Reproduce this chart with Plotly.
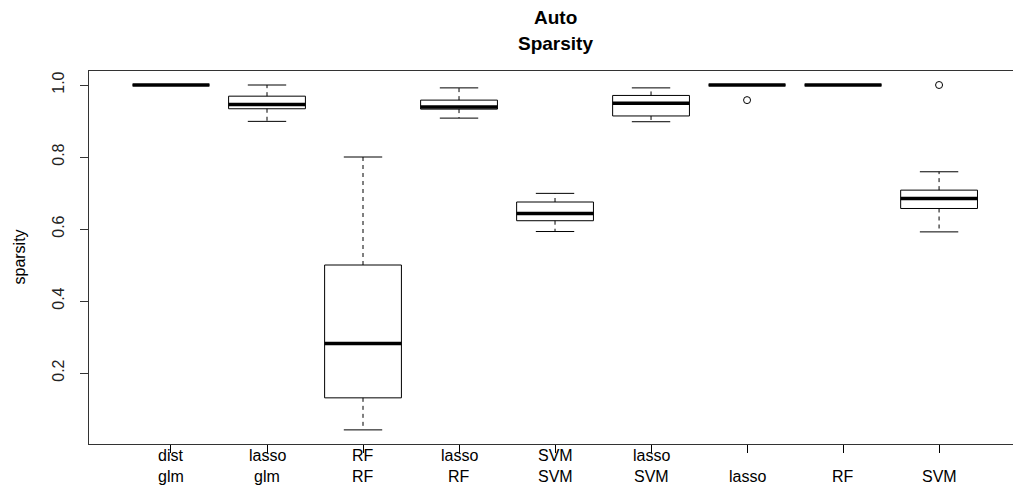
import plotly.graph_objects as go

# Category labels (two text rows under each box)
label_top = ["dist", "lasso", "RF", "lasso", "SVM", "lasso", "", "", ""]
label_bottom = ["glm", "glm", "RF", "RF", "SVM", "SVM", "lasso", "RF", "SVM"]

# Five-number summaries per box
whisk_low = [1.000, 0.899, 0.042, 0.908, 0.593, 0.898, 1.000, 1.000, 0.592]
q1 = [1.000, 0.934, 0.131, 0.933, 0.623, 0.914, 1.000, 1.000, 0.657]
median = [1.000, 0.946, 0.282, 0.939, 0.643, 0.949, 1.000, 1.000, 0.685]
q3 = [1.000, 0.969, 0.500, 0.958, 0.675, 0.971, 1.000, 1.000, 0.708]
whisk_high = [1.000, 1.000, 0.800, 0.992, 0.699, 0.992, 1.000, 1.000, 0.759]

# Outlying points: (box position, value)
outlier_pos = [7, 9]
outlier_val = [0.958, 1.000]

y_ticks = [0.2, 0.4, 0.6, 0.8, 1.0]
y_ticktext = ["0.2", "0.4", "0.6", "0.8", "1.0"]

positions = list(range(1, len(median) + 1))
HALF = 0.4      # half box width
CAP = 0.2       # half staple width

box_x, box_y = [], []
med_x, med_y = [], []
wh_x, wh_y = [], []
cap_x, cap_y = [], []
for i, p in enumerate(positions):
    box_x += [p - HALF, p + HALF, p + HALF, p - HALF, p - HALF, None]
    box_y += [q1[i], q1[i], q3[i], q3[i], q1[i], None]
    med_x += [p - HALF, p + HALF, None]
    med_y += [median[i], median[i], None]
    wh_x += [p, p, None, p, p, None]
    wh_y += [q3[i], whisk_high[i], None, q1[i], whisk_low[i], None]
    cap_x += [p - CAP, p + CAP, None, p - CAP, p + CAP, None]
    cap_y += [whisk_high[i], whisk_high[i], None, whisk_low[i], whisk_low[i], None]

fig = go.Figure()
fig.add_trace(go.Scatter(x=wh_x, y=wh_y, mode="lines",
                         line=dict(color="black", width=1, dash="4px,4px"),
                         hoverinfo="skip"))
fig.add_trace(go.Scatter(x=cap_x, y=cap_y, mode="lines",
                         line=dict(color="black", width=1), hoverinfo="skip"))
fig.add_trace(go.Scatter(x=box_x, y=box_y, mode="lines",
                         line=dict(color="black", width=1), hoverinfo="skip"))
fig.add_trace(go.Scatter(x=med_x, y=med_y, mode="lines",
                         line=dict(color="black", width=3.5), hoverinfo="skip"))
fig.add_trace(go.Scatter(x=outlier_pos, y=outlier_val, mode="markers",
                         marker=dict(symbol="circle-open", size=7,
                                     color="black", line=dict(width=1)),
                         hoverinfo="skip"))

font_main = "Liberation Sans, Arial, sans-serif"

annotations = []
for p, t, b in zip(positions, label_top, label_bottom):
    if t:
        annotations.append(dict(x=p, y=0, xref="x", yref="paper", text=t,
                                showarrow=False, yanchor="middle", yshift=-11,
                                font=dict(size=16, color="black", family=font_main)))
    annotations.append(dict(x=p, y=0, xref="x", yref="paper", text=b,
                            showarrow=False, yanchor="middle", yshift=-32,
                            font=dict(size=16, color="black", family=font_main)))

title_x = sum(positions) / len(positions)
annotations.append(dict(x=title_x, y=1, xref="x", yref="paper", text="<b>Auto</b>",
                        showarrow=False, yanchor="middle", yshift=54,
                        font=dict(size=19, color="black", family=font_main)))
annotations.append(dict(x=title_x, y=1, xref="x", yref="paper", text="<b>Sparsity</b>",
                        showarrow=False, yanchor="middle", yshift=28,
                        font=dict(size=19, color="black", family=font_main)))
annotations.append(dict(x=0, y=0.5, xref="paper", yref="paper", text="sparsity",
                        showarrow=False, xanchor="center", yanchor="middle",
                        xshift=-70, textangle=-90,
                        font=dict(size=16, color="black", family=font_main)))

fig.update_layout(
    width=1013, height=488,
    margin=dict(l=89, r=0, t=71, b=44),
    paper_bgcolor="white", plot_bgcolor="white",
    showlegend=False,
    annotations=annotations,
    font=dict(family=font_main, size=16, color="black"),
)
fig.update_xaxes(range=[0.146, 9.77], tickmode="array", tickvals=positions,
                 ticktext=[""] * len(positions), ticks="outside", ticklen=8,
                 tickcolor="black", showgrid=False, zeroline=False,
                 showline=True, linecolor="#333333", linewidth=1, mirror=True)
fig.update_yaxes(range=[0.0028, 1.0389], tickmode="array", tickvals=y_ticks,
                 ticktext=y_ticktext, tickangle=-90, ticks="outside", ticklen=8,
                 tickcolor="#333333", showgrid=False, zeroline=False,
                 showline=True, linecolor="#333333", linewidth=1,
                 ticklabelstandoff=10,
                 tickfont=dict(size=16, color="#222222", family=font_main))

fig.write_html("out.html")
